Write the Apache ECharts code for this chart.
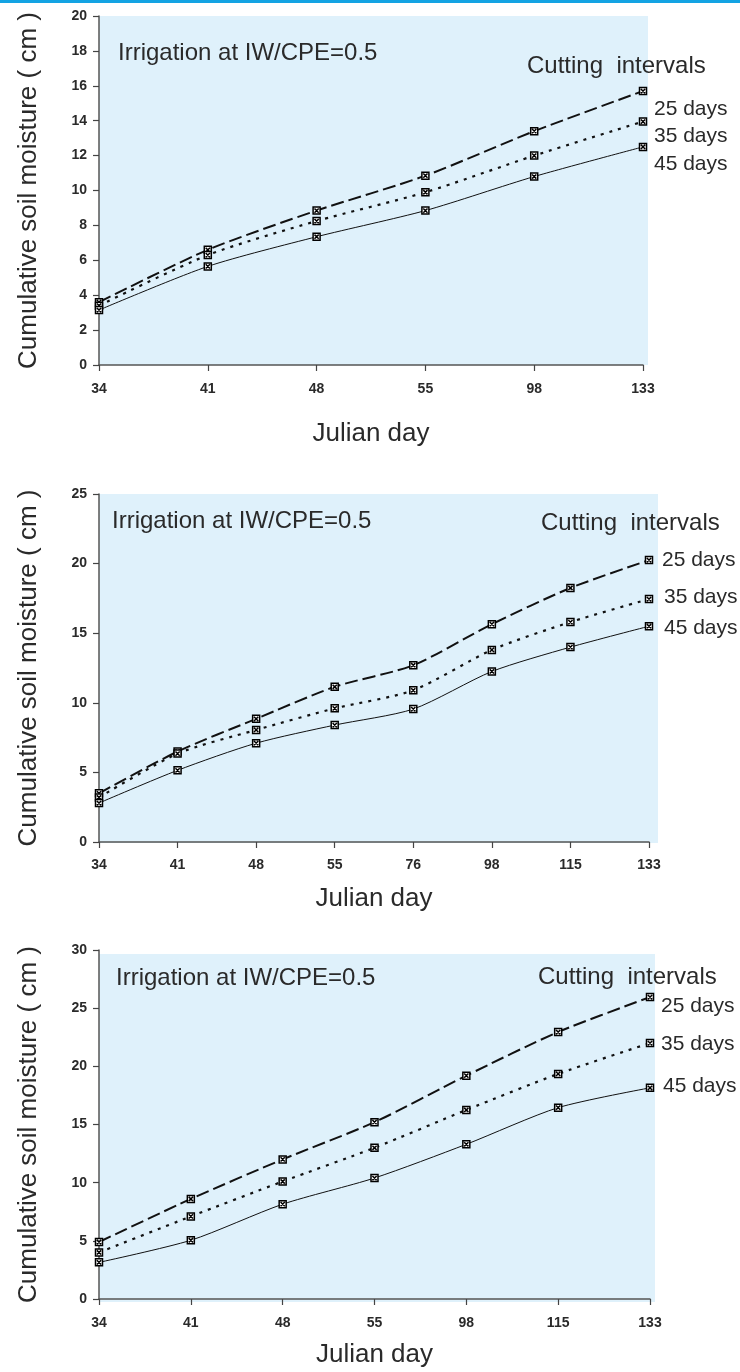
<!DOCTYPE html>
<html>
<head>
<meta charset="utf-8">
<title>Cumulative soil moisture</title>
<script src="https://cdn.jsdelivr.net/npm/echarts@6/dist/echarts.min.js"></script>
<style>
	body { margin: 0; background: #fff; }
	#topline { position: absolute; left: 0; top: 0; width: 740px; height: 3px; background: #13a3e3; }
	#main { position: absolute; left: 0; top: 0; width: 740px; height: 1372px; }
</style>
</head>
<body>
<div id="main"></div>
<div id="topline"></div>
<script>
// chart 1
var days1 = [ '34', '41', '48', '55', '98', '133' ];
var c1d25 = [ 3.6, 6.6, 8.85, 10.85, 13.4, 15.7 ];
var c1d35 = [ 3.4, 6.3, 8.25, 9.9, 12.0, 13.95 ];
var c1d45 = [ 3.15, 5.65, 7.35, 8.85, 10.8, 12.5 ];

// chart 2
var days2 = [ '34', '41', '48', '55', '76', '98', '115', '133' ];
var c2d25 = [ 3.5, 6.5, 8.85, 11.15, 12.7, 15.65, 18.25, 20.25 ];
var c2d35 = [ 3.2, 6.35, 8.05, 9.6, 10.9, 13.8, 15.8, 17.45 ];
var c2d45 = [ 2.8, 5.15, 7.1, 8.4, 9.55, 12.25, 14.0, 15.5 ];

// chart 3
var days3 = [ '34', '41', '48', '55', '98', '115', '133' ];
var c3d25 = [ 4.9, 8.6, 12.0, 15.2, 19.2, 22.95, 25.95 ];
var c3d35 = [ 4.0, 7.1, 10.1, 13.0, 16.25, 19.35, 22.0 ];
var c3d45 = [ 3.15, 5.05, 8.15, 10.4, 13.3, 16.45, 18.15 ];

var yMax = [ 20, 25, 30 ];
var yStep = [ 2, 5, 5 ];
var seriesNames = [ '25 days', '35 days', '45 days' ];

var FONT = '"Liberation Sans", Arial, sans-serif';
var INK = '#2a2a2a';
// small boxed cross marker, like the excel one
var MARK = 'path://M0,0L10,0L10,10L0,10Z M2,2L8,8 M8,2L2,8';

var myChart = echarts.init(document.getElementById('main'), null, { renderer : 'canvas' });

var grids = [], xAxes = [], yAxes = [], seriesList = [], graphics = [];

// one panel: layout box, categories and the three lines
function addPanel(i, box, cats, d25, d35, d45, txt) {
	grids.push({
		left : 99,
		top : box.top,
		width : box.width,
		height : box.height
	});
	xAxes.push({
		gridIndex : i,
		type : 'category',
		data : cats,
		boundaryGap : false,
		name : 'Julian day',
		nameLocation : 'middle',
		nameGap : box.xGap,
		nameTextStyle : { fontFamily : FONT, fontSize : 26, color : INK },
		axisLine : { lineStyle : { color : '#555', width : 1.5 } },
		axisTick : { show : true, length : 6, lineStyle : { color : '#444', width : 1.2 } },
		axisLabel : {
			interval : 0,
			margin : box.labelGap,
			fontFamily : FONT,
			fontSize : 14,
			fontWeight : 'bold',
			color : INK
		},
		splitLine : { show : false }
	});
	yAxes.push({
		gridIndex : i,
		type : 'value',
		min : 0,
		max : yMax[i],
		interval : yStep[i],
		name : 'Cumulative soil moisture ( cm )',
		nameLocation : 'middle',
		nameGap : 57,
		nameRotate : 90,
		nameTextStyle : { fontFamily : FONT, fontSize : 26, color : INK },
		axisLine : { show : true, lineStyle : { color : '#555', width : 1.5 } },
		axisTick : { show : true, length : 6, lineStyle : { color : '#444', width : 1.2 } },
		axisLabel : {
			margin : 12,
			fontFamily : FONT,
			fontSize : 14,
			fontWeight : 'bold',
			color : INK
		},
		splitLine : { show : false }
	});

	var styles = [
		{ type : [ 13, 5 ], width : 2 },
		{ type : [ 3, 6 ], width : 2.2 },
		{ type : 'solid', width : 1 }
	];
	var sets = [ d25, d35, d45 ];
	for (var k = 0; k < 3; k++) {
		seriesList.push({
			name : seriesNames[k],
			type : 'line',
			xAxisIndex : i,
			yAxisIndex : i,
			data : sets[k],
			smooth : 0.25,
			symbol : MARK,
			symbolSize : 7,
			itemStyle : { color : '#fff', borderColor : '#000', borderWidth : 1.5 },
			lineStyle : { color : '#111', width : styles[k].width, type : styles[k].type },
			animation : false
		});
	}

	// light blue plot background
	graphics.push({
		type : 'rect',
		z : -100,
		shape : { x : 99, y : box.bgTop, width : box.bgW, height : box.bgH },
		style : { fill : '#dff1fb' },
		silent : true
	});
	// annotations
	for (var t = 0; t < txt.length; t++) {
		graphics.push({
			type : 'text',
			x : txt[t][1],
			y : txt[t][2],
			style : {
				text : txt[t][0],
				font : txt[t][3] + 'px ' + FONT,
				fill : INK,
				verticalAlign : 'middle'
			}
		});
	}
}

addPanel(0, { top : 16, width : 544, height : 349, xGap : 56, labelGap : 17, bgTop : 16, bgW : 549, bgH : 349 },
	days1, c1d25, c1d35, c1d45, [
		[ 'Irrigation at IW/CPE=0.5', 118, 53, 24 ],
		[ 'Cutting  intervals', 527, 66, 24 ],
		[ '25 days', 654, 109, 21 ],
		[ '35 days', 654, 136, 21 ],
		[ '45 days', 654, 164, 21 ]
	]);
addPanel(1, { top : 494, width : 550, height : 348, xGap : 44, labelGap : 16, bgTop : 494, bgW : 559, bgH : 349 },
	days2, c2d25, c2d35, c2d45, [
		[ 'Irrigation at IW/CPE=0.5', 112, 521, 24 ],
		[ 'Cutting  intervals', 541, 523, 24 ],
		[ '25 days', 662, 560, 21 ],
		[ '35 days', 664, 597, 21 ],
		[ '45 days', 664, 628, 21 ]
	]);
addPanel(2, { top : 950, width : 551, height : 349, xGap : 43, labelGap : 17, bgTop : 954, bgW : 556, bgH : 348 },
	days3, c3d25, c3d35, c3d45, [
		[ 'Irrigation at IW/CPE=0.5', 116, 978, 24 ],
		[ 'Cutting  intervals', 538, 977, 24 ],
		[ '25 days', 661, 1006, 21 ],
		[ '35 days', 661, 1044, 21 ],
		[ '45 days', 663, 1086, 21 ]
	]);

var option = {
	backgroundColor : '#fff',
	animation : false,
	grid : grids,
	xAxis : xAxes,
	yAxis : yAxes,
	series : seriesList,
	graphic : { elements : graphics }
};
myChart.setOption(option);
</script>
</body>
</html>
